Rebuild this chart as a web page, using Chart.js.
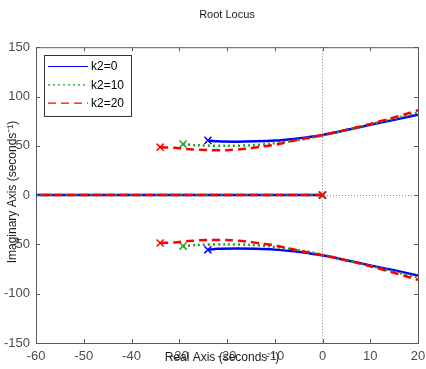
<!DOCTYPE html>
<html>
<head>
<meta charset="utf-8">
<script src="https://cdn.jsdelivr.net/npm/chart.js@4"></script>
<style>
body { margin: 0; background: #fff; }
</style>
</head>
<body>
<canvas id="rlocus" width="426" height="369"></canvas>
<script>
const seriesNames = ['k2=0', 'k2=10', 'k2=20'];
const xTicks = [-60, -50, -40, -30, -20, -10, 0, 10, 20];
const yTicks = [-150, -100, -50, 0, 50, 100, 150];

// complex branches, upper half (real, imag)
const re0 = [-24, -22, -18, -14, -10, -6, -3, 0, 5, 10, 15, 20];
const im0 = [55.5, 54.5, 54.2, 54.5, 55.3, 57, 58.8, 61, 66, 71.3, 76.3, 81.5];
const re10 = [-29.2, -26, -20, -15, -11, -7, -3, 0, 5, 10, 15, 20];
const im10 = [51.7, 50.5, 50, 50.5, 52, 54.5, 57.5, 60.5, 66, 71.8, 77.5, 83.5];
const re20 = [-34, -31, -28, -24, -20, -16, -13, -9.6, -6.2, -2.6, 0, 4, 7.5, 10.6, 14, 17.3, 20];
const im20 = [48.6, 48, 46.5, 45.6, 45.6, 47, 49, 51.4, 55, 58.5, 61, 65, 69, 73, 77.5, 82, 86];

// lower half
const im0Low = [-55.5, -54.5, -54.2, -54.5, -55.3, -57, -58.8, -61, -66, -71.3, -76.3, -81.5];
const im10Low = [-51.7, -50.5, -50, -50.5, -52, -54.5, -57.5, -60.5, -66, -71.8, -77.5, -83.5];
const im20Low = [-48.6, -48, -46.5, -45.6, -45.6, -47, -49, -51.4, -55, -58.5, -61, -65, -69, -73, -77.5, -82, -86];

// real axis branch
const realRe = [0, -60];
const realIm = [0, 0];

// open loop poles
const poleRe0 = [-24, -24, 0];
const poleIm0 = [55.5, -55.5, 0];
const poleRe10 = [-29.2, -29.2, 0];
const poleIm10 = [51.7, -51.7, 0];
const poleRe20 = [-34, -34, 0];
const poleIm20 = [48.6, -48.6, 0];

const colors = ['#0000ff', '#1ea01e', '#ff0000'];
const dashes = [[], [2, 3], [8, 5]];

function pts(xs, ys) {
  return xs.map((x, i) => ({ x: x, y: ys[i] }));
}

const branches = [
  [[re0, im0], [re0, im0Low], [realRe, realIm]],
  [[re10, im10], [re10, im10Low], [realRe, realIm]],
  [[re20, im20], [re20, im20Low], [realRe, realIm]]
];
const poles = [[poleRe0, poleIm0], [poleRe10, poleIm10], [poleRe20, poleIm20]];

const datasets = [];
branches.forEach((set, s) => {
  set.forEach(b => {
    datasets.push({
      label: seriesNames[s],
      data: pts(b[0], b[1]),
      showLine: true,
      borderColor: colors[s],
      borderWidth: 2.5,
      borderDash: dashes[s],
      pointRadius: 0,
      tension: 0.3,
      order: 2 - s
    });
  });
  datasets.push({
    label: seriesNames[s],
    data: pts(poles[s][0], poles[s][1]),
    showLine: false,
    pointStyle: 'crossRot',
    pointRadius: 5,
    pointBorderWidth: 1.5,
    borderColor: colors[s],
    order: 2 - s
  });
});

const frame = {
  id: 'frame',
  afterDraw(chart) {
    const c = chart.ctx;
    const a = chart.chartArea;
    const xs = chart.scales.x, ys = chart.scales.y;
    c.save();
    c.strokeStyle = '#5a5a5a';
    c.lineWidth = 1;
    c.strokeRect(a.left + 0.5, a.top + 0.5, a.right - a.left, a.bottom - a.top);
    c.beginPath();
    xTicks.forEach(v => {
      const px = Math.round(xs.getPixelForValue(v)) + 0.5;
      c.moveTo(px, a.bottom); c.lineTo(px, a.bottom - 4);
      c.moveTo(px, a.top); c.lineTo(px, a.top + 4);
    });
    yTicks.forEach(v => {
      const py = Math.round(ys.getPixelForValue(v)) + 0.5;
      c.moveTo(a.left, py); c.lineTo(a.left + 4, py);
      c.moveTo(a.right, py); c.lineTo(a.right - 4, py);
    });
    c.stroke();

    // legend box
    c.fillStyle = '#fff';
    c.fillRect(44.5, 55.5, 87, 61);
    c.strokeStyle = '#333';
    c.strokeRect(44.5, 55.5, 87, 61);
    c.font = '12px "Liberation Sans", Arial, sans-serif';
    c.textBaseline = 'middle';
    seriesNames.forEach((n, i) => {
      const y = 66.5 + i * 18.3;
      c.beginPath();
      c.strokeStyle = colors[i];
      c.lineWidth = 1.2;
      c.setLineDash(dashes[i]);
      c.moveTo(48, y); c.lineTo(88, y);
      c.stroke();
      c.setLineDash([]);
      c.fillStyle = '#000';
      c.fillText(n, 91, y + 0.5);
    });

    // axis titles
    c.fillStyle = '#1a1a1a';
    c.font = '12px "Liberation Sans", Arial, sans-serif';
    c.textAlign = 'center';
    c.fillText('Real Axis (seconds\u207B\u00B9)', 222, 358);
    c.translate(13, 192);
    c.rotate(-Math.PI / 2);
    c.fillText('Imaginary Axis (seconds\u207B\u00B9)', 0, 0);
    c.restore();
  }
};

const zeroLine = ctx => ctx.tick && ctx.tick.value === 0 ? '#8a8a8a' : 'rgba(0,0,0,0)';

new Chart(document.getElementById('rlocus'), {
  type: 'scatter',
  data: { datasets: datasets },
  options: {
    responsive: false,
    animation: false,
    layout: { padding: 0 },
    plugins: {
      legend: { display: false },
      tooltip: { enabled: false },
      title: {
        display: true,
        fullSize: false,
        text: 'Root Locus',
        color: '#1a1a1a',
        font: { family: '"Liberation Sans", Arial, sans-serif', size: 11, weight: 'normal' },
        padding: { top: 8, bottom: 26 }
      }
    },
    scales: {
      x: {
        type: 'linear',
        min: -60,
        max: 20,
        afterBuildTicks: s => { s.ticks = xTicks.map(v => ({ value: v })); },
        afterFit: s => { s.height = 26; s.paddingLeft = 0; s.paddingRight = 8; },
        ticks: {
          color: '#4d4d4d',
          padding: 6,
          maxRotation: 0,
          font: { family: '"Liberation Sans", Arial, sans-serif', size: 13 }
        },
        grid: { color: zeroLine, drawTicks: false, lineWidth: 1 },
        border: { display: false, dash: [1, 2] }
      },
      y: {
        type: 'linear',
        min: -150,
        max: 150,
        afterBuildTicks: s => { s.ticks = yTicks.map(v => ({ value: v })); },
        afterFit: s => { s.width = 36; s.paddingTop = 0; s.paddingBottom = 0; },
        ticks: {
          color: '#4d4d4d',
          padding: 6,
          font: { family: '"Liberation Sans", Arial, sans-serif', size: 13 }
        },
        grid: { color: zeroLine, drawTicks: false, lineWidth: 1 },
        border: { display: false, dash: [1, 2] }
      }
    }
  },
  plugins: [frame]
});
</script>
</body>
</html>
